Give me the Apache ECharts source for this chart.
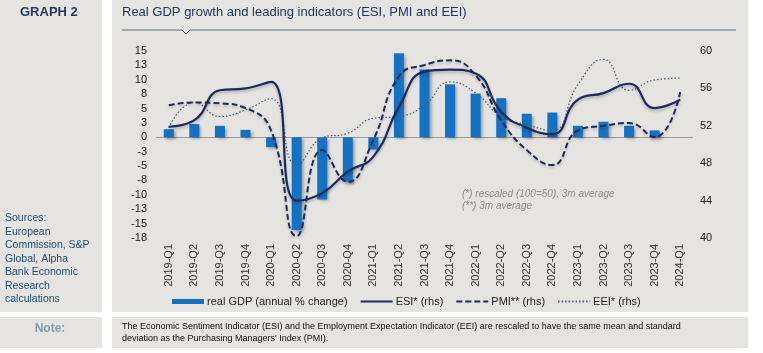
<!DOCTYPE html>
<html><head><meta charset="utf-8">
<script src="https://cdn.jsdelivr.net/npm/echarts@6/dist/echarts.min.js"></script>
<style>html,body{margin:0;padding:0;background:#fff}#c{width:763px;height:353px}</style>
</head><body><div id="c"></div>
<script>
var categories = ['2019-Q1','2019-Q2','2019-Q3','2019-Q4','2020-Q1','2020-Q2','2020-Q3','2020-Q4','2021-Q1','2021-Q2','2021-Q3','2021-Q4','2022-Q1','2022-Q2','2022-Q3','2022-Q4','2023-Q1','2023-Q2','2023-Q3','2023-Q4','2024-Q1'];
var gdp = [1.4, 2.3, 2.0, 1.3, -1.7, -16.1, -10.8, -7.7, -2.1, 14.6, 11.8, 9.2, 7.6, 6.8, 4.1, 4.3, 2.0, 2.7, 2.0, 1.2, null];
var esi = [51.9, 52.6, 55.8, 56.0, 56.7, 44.0, 44.8, 47.1, 48.7, 54.0, 57.8, 58.0, 57.6, 53.5, 51.8, 51.1, 54.8, 55.5, 56.5, 53.9, 54.8];
var pmi = [54.2, 54.5, 54.4, 53.9, 51.5, 40.2, 49.4, 46.0, 50.5, 57.3, 58.5, 59.0, 57.4, 52.6, 49.4, 47.8, 51.5, 52.0, 52.3, 50.8, 55.6];
var eei = [51.8, 54.5, 53.0, 53.7, 54.9, 47.8, 50.7, 51.2, 52.8, 53.0, 54.2, 56.7, 55.5, 53.0, 52.1, 51.5, 56.4, 59.1, 55.8, 56.9, 57.1];
var seriesNames = ['real GDP (annual % change)', 'ESI* (rhs)', 'PMI** (rhs)', 'EEI* (rhs)'];
var sourcesLines = ['Sources:', 'European', 'Commission, S&P', 'Global, Alpha', 'Bank Economic', 'Research', 'calculations'];

var navy = '#1c2a5e';
var panel = '#e5e4e0';
var chart = echarts.init(document.getElementById('c'));
var font = 'Liberation Sans, Arial, sans-serif';

var graphics = [
  {type:'rect', shape:{x:0,y:0,width:102,height:312}, style:{fill:panel}, z:-10},
  {type:'rect', shape:{x:112,y:0,width:636,height:312}, style:{fill:panel}, z:-10},
  {type:'rect', shape:{x:0,y:317,width:102,height:31}, style:{fill:panel}, z:-10},
  {type:'rect', shape:{x:112,y:317,width:636,height:31}, style:{fill:panel}, z:-10},
  {type:'text', x:20, y:6, style:{text:'GRAPH 2', font:'bold 13px ' + font, fill:'#1f3a68'}},
  {type:'text', x:122, y:6, style:{text:'Real GDP growth and leading indicators (ESI, PMI and EEI)', font:'13px ' + font, fill:'#1f3864'}},
  {type:'polyline', shape:{points:[[122,30],[182,30],[186,34],[190,30],[736,30]]}, style:{stroke:'#5b6e8c', lineWidth:1, fill:null}},
  {type:'text', x:462, y:189, style:{text:'(*) rescaled (100=50), 3m average', font:'italic 10px ' + font, fill:'#8a8a8a'}},
  {type:'text', x:462, y:201, style:{text:'(**) 3m average', font:'italic 10px ' + font, fill:'#8a8a8a'}},
  {type:'text', x:50, y:329, style:{text:'Note:', font:'bold 12px ' + font, fill:'#7f9fac', align:'center', verticalAlign:'middle'}},
  {type:'text', x:122, y:322, style:{text:'The Economic Sentiment Indicator (ESI) and the Employment Expectation Indicator (EEI) are rescaled to have the same mean and standard', font:'9px ' + font, fill:'#111'}},
  {type:'text', x:122, y:334, style:{text:"deviation as the Purchasing Managers' Index (PMI).", font:'9px ' + font, fill:'#111'}}
];
sourcesLines.forEach(function(t, i){
  graphics.push({type:'text', x:5, y:213 + i*13.5, style:{text:t, font:'10.5px ' + font, fill:'#1f4e79'}});
});

var noSym = {opacity:0};
chart.setOption({
  animation:false,
  backgroundColor:'#fff',
  textStyle:{fontFamily:font},
  graphic:graphics,
  grid:{left:156, right:70, top:51, bottom:115, containLabel:false},
  legend:{
    left:167, top:291, itemWidth:32, itemHeight:5, itemGap:12,
    textStyle:{fontSize:11, color:'#222', padding:[0,0,0,-2]},
    data:[
      {name:seriesNames[0], icon:'rect'},
      {name:seriesNames[1], itemStyle:noSym},
      {name:seriesNames[2], itemStyle:noSym},
      {name:seriesNames[3], itemStyle:noSym}
    ]
  },
  xAxis:{
    type:'category', data:categories,
    axisLine:{show:false}, axisTick:{show:false},
    axisLabel:{rotate:90, fontSize:11, color:'#333', margin:6, interval:0}
  },
  yAxis:[
    {type:'value', min:-17.5, max:15, interval:2.5,
     splitLine:{show:false}, axisLine:{show:false}, axisTick:{show:false},
     axisLabel:{fontSize:11, color:'#222', margin:9,
       formatter:function(v){var r=Math.sign(v)*Math.round(Math.abs(v)); return String(r===0?0:r);}}},
    {type:'value', min:40, max:60, interval:4, position:'right',
     splitLine:{show:false}, axisLine:{show:false}, axisTick:{show:false},
     axisLabel:{fontSize:11, color:'#222', margin:7}}
  ],
  series:[
    {name:seriesNames[0], type:'bar', data:gdp, barWidth:10, yAxisIndex:0,
     itemStyle:{color:'#1472c4', shadowColor:'rgba(0,0,0,0.35)', shadowBlur:3, shadowOffsetX:2, shadowOffsetY:2},
     markLine:{silent:true, symbol:'none', label:{show:false}, lineStyle:{color:'#9a9a9a', width:1, type:'solid'}, data:[{yAxis:0}], z:1}
    },
    {name:seriesNames[1], type:'line', data:esi, yAxisIndex:1, smooth:0.5, showSymbol:false, symbol:'none',
     lineStyle:{color:navy, width:2.2, shadowColor:'rgba(0,0,0,0.25)', shadowBlur:3, shadowOffsetY:2}, itemStyle:{color:navy}, z:5},
    {name:seriesNames[2], type:'line', data:pmi, yAxisIndex:1, smooth:0.5, showSymbol:false, symbol:'none',
     lineStyle:{color:navy, width:2, type:[6,3], shadowColor:'rgba(0,0,0,0.2)', shadowBlur:3, shadowOffsetY:2}, itemStyle:{color:navy}, z:4},
    {name:seriesNames[3], type:'line', data:eei, yAxisIndex:1, smooth:0.5, showSymbol:false, symbol:'none',
     lineStyle:{color:'#4a5a80', width:1.3, type:[1.5,2]}, itemStyle:{color:'#4a5a80'}, z:3}
  ]
});
</script></body></html>
